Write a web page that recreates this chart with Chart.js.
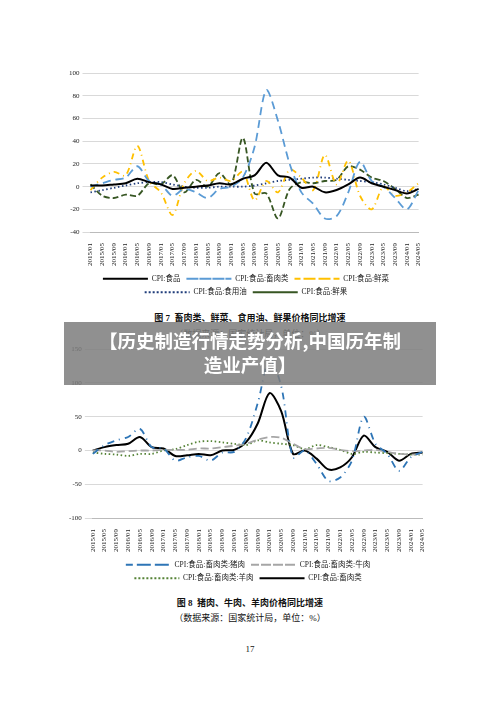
<!DOCTYPE html>
<html><head><meta charset="utf-8">
<script src="https://cdn.jsdelivr.net/npm/chart.js"></script>
<style>
body{margin:0;background:#fff;width:500px;height:707px;position:relative;overflow:hidden;font-family:"Liberation Serif","Noto Sans CJK SC",serif;}
.c{position:absolute;}
.cap{position:absolute;left:0;width:500px;text-align:center;font-size:9px;color:#111;}
#banner{position:absolute;left:64px;top:322px;width:372px;height:63px;background:rgba(125,125,125,0.85);color:#fff;font-family:"Noto Sans CJK SC",sans-serif;font-weight:bold;font-size:18.5px;text-align:center;line-height:24px;padding-top:6px;box-sizing:border-box;}
</style></head><body>
<div class="c" style="left:66px;top:66px;width:364px;height:240px"><canvas id="c1"></canvas></div>
<div class="cap" style="top:311px;font-weight:bold">图 7 &nbsp;畜肉类、鲜菜、食用油、鲜果价格同比增速</div>
<div class="cap" style="top:327px">（数据来源：国家统计局，单位：%）</div>
<div class="c" style="left:66px;top:342px;width:368px;height:250px"><canvas id="c2"></canvas></div>
<div class="cap" style="top:596px;font-weight:bold">图 8 &nbsp;猪肉、牛肉、羊肉价格同比增速</div>
<div class="cap" style="top:611px">（数据来源：国家统计局，单位：%）</div>
<div class="cap" style="top:644px">17</div>
<div id="banner">【历史制造行情走势分析,中国历年制<br>造业产值】</div>
<script>
const labels=[];for(let y=2015;y<=2024;y++)for(const m of ['01','05','09']){if(y===2024&&m==='09')break;labels.push(y+'/'+m);}
const food=[1,1,2,3,7,4,2,-2,-1,0,1,3,2,7,10,21,10,8,-1,0,-5,-3,2,8,3,0,-3,-6,-2];
const meat=[0,3,6,8,18,5,2,-8,-2,-5,-10,-2,0,8,35,85,58,20,-5,-15,-28,-26,-5,22,5,0,-10,-20,-3];
const veg=[-3,8,13,10,36,5,-5,-25,3,14,5,8,5,13,-12,5,-5,15,8,-3,28,2,23,-8,-20,0,-8,-5,3];
const oil=[-5,-3,-1,1,3,4,4,2,0,-1,-1,0,0,0,1,3,5,6,7,8,8,7,6,5,4,2,-1,-4,-2];
const fruit=[2,-8,-10,-7,-8,3,2,10,-5,6,0,12,2,43,-6,-6,-28,-2,4,3,5,6,18,15,8,5,-2,-10,-7];
const pork=[-5,8,15,20,32,5,3,-15,-10,-8,-15,-3,-2,18,70,135,95,-10,0,-20,-45,-40,-15,50,10,-5,-30,-10,-2];
const beef=[0,0,-2,-1,0,0,1,1,1,3,3,5,7,10,16,20,19,10,2,3,4,1,-1,0,1,-2,-5,-6,-5];
const mutton=[-3,-5,-6,-8,-5,-5,0,2,8,13,14,12,10,8,15,12,10,8,2,8,5,1,-5,-2,-3,-4,-5,-6,-6];
const meat2=[0,5,8,10,20,5,3,-8,-7,-5,-7,0,1,12,40,85,58,-5,0,-12,-28,-25,-10,22,5,-2,-15,-5,-3];
Chart.defaults.font.family='"Liberation Serif","Noto Sans CJK SC",serif';
Chart.defaults.color='#222';
Chart.defaults.animation=false;
function ds(label,data,color,dash,w){return{label,data,borderColor:color,backgroundColor:color,borderDash:dash,borderWidth:w||1.8,pointRadius:0,tension:0.3,fill:false};}
function opts(min,max,step){return{responsive:true,maintainAspectRatio:false,
layout:{padding:{right:4}},
plugins:{legend:{position:'bottom',labels:{boxWidth:45,boxHeight:0,font:{size:7.5},padding:6}},tooltip:{enabled:false}},
scales:{x:{grid:{display:false},border:{color:'#bbb'},ticks:{font:{size:7},maxRotation:90,minRotation:90,autoSkip:false}},
y:{min,max,ticks:{stepSize:step,font:{size:7}},grid:{color:'#d9d9d9'},border:{display:false}}}};}
new Chart(document.getElementById('c1'),{type:'line',data:{labels,datasets:[
ds('CPI:食品',food,'#000',[],2),ds('CPI:食品:畜肉类',meat,'#5b9bd5',[8,5]),ds('CPI:食品:鲜菜',veg,'#ffc000',[6,4,1,4]),
ds('CPI:食品:食用油',oil,'#1f3c7a',[1.5,2.5]),ds('CPI:食品:鲜果',fruit,'#375623',[6,3])]},options:opts(-40,100,20)});
new Chart(document.getElementById('c2'),{type:'line',data:{labels,datasets:[
ds('CPI:食品:畜肉类:猪肉',pork,'#2e75b6',[7,5,1,5]),ds('CPI:食品:畜肉类:牛肉',beef,'#a6a6a6',[8,4]),
ds('CPI:食品:畜肉类:羊肉',mutton,'#548235',[1.5,2.5]),ds('CPI:食品:畜肉类',meat2,'#000',[],2)]},options:opts(-100,150,50)});
</script></body></html>
